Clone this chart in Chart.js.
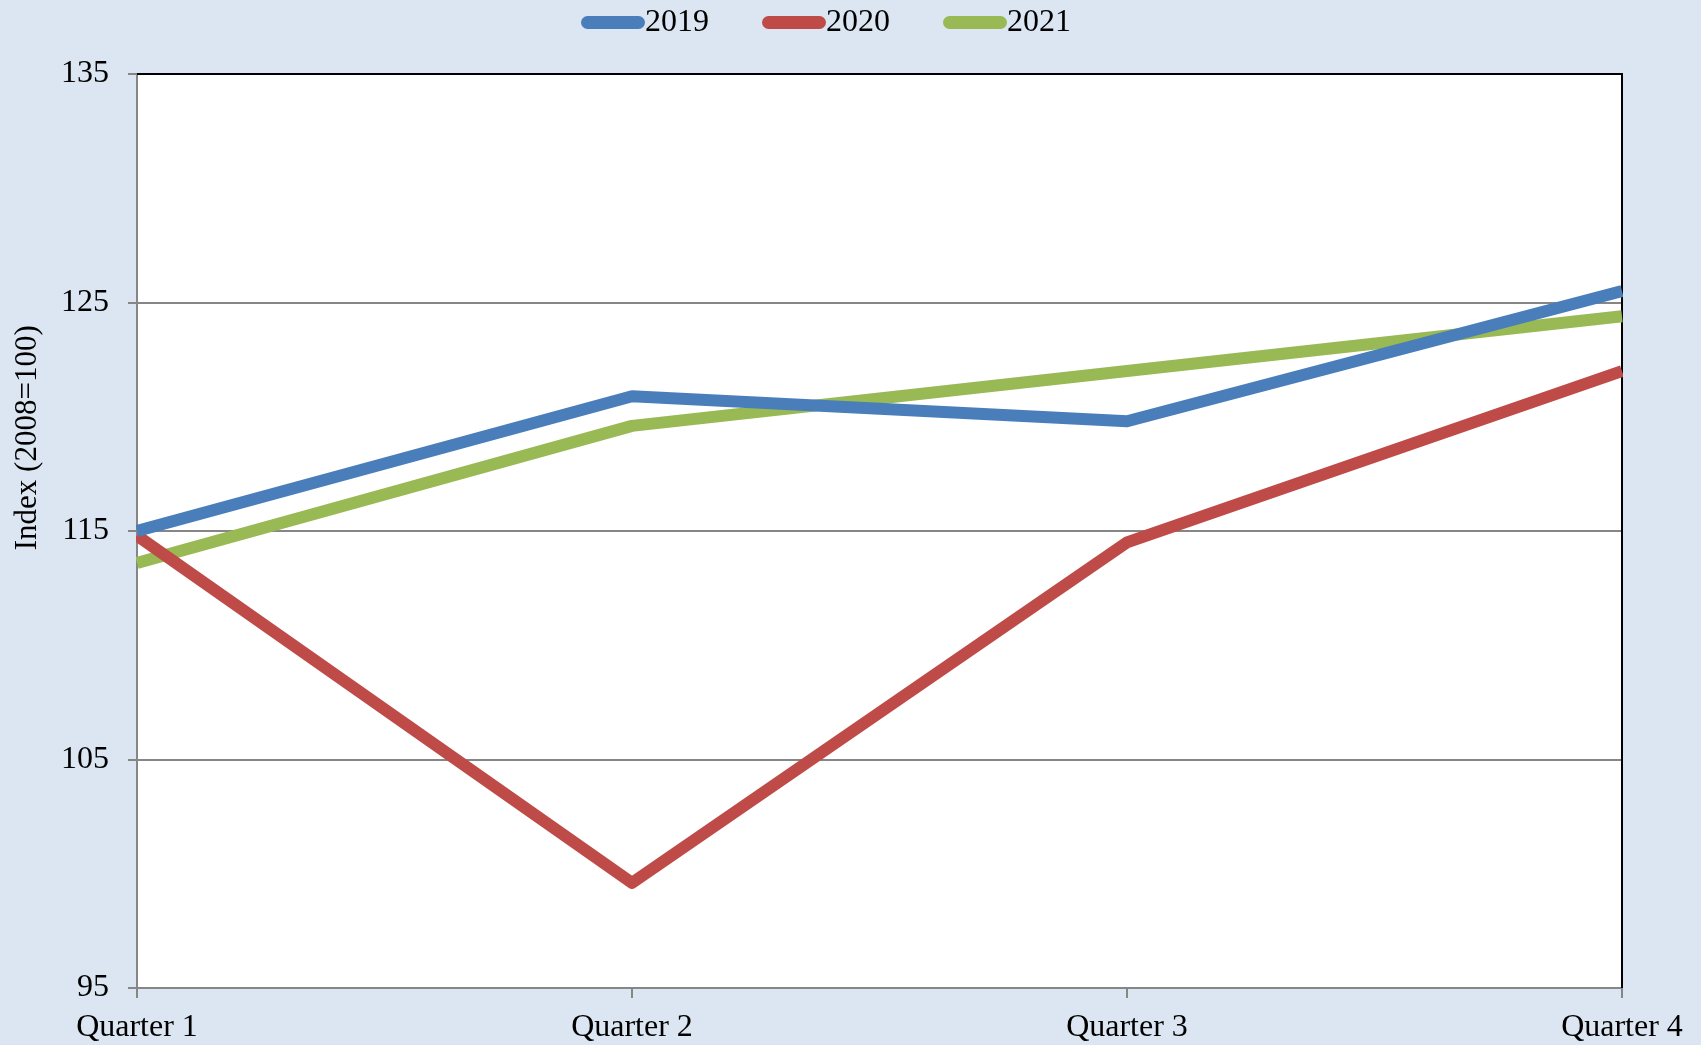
<!DOCTYPE html>
<html lang="en">
<head>
    <meta charset="UTF-8">
    <title>Quarterly index 2019-2021</title>
    <style>
        body {
            margin: 0;
            background: #dce6f2;
        }

        #chart-container {
            position: relative;
            width: 1701px;
            height: 1045px;
        }
    </style>
</head>
<body>
<div id="chart-container">
    <canvas id="index-chart"></canvas>
</div>
<script src="https://cdn.jsdelivr.net/npm/chart.js@4.4.1/dist/chart.umd.min.js"></script>
<script>
    const quarters = ["Quarter 1", "Quarter 2", "Quarter 3", "Quarter 4"];
    const index2019 = [115.0, 120.9, 119.8, 125.5];
    const index2020 = [114.8, 99.6, 114.5, 122.0];
    const index2021 = [113.6, 119.6, 122.0, 124.4];
    const yMin = 95;
    const yMax = 135;
    const yStep = 10;

    const serif = "'Liberation Serif', 'Times New Roman', serif";
    const axisGrey = "#868686";

    Chart.defaults.font.family = serif;
    Chart.defaults.font.size = 32;
    Chart.defaults.color = "#000";

    // white plot area + black top/right edges
    const plotFrame = {
        id: "plotFrame",
        beforeDraw(chart) {
            const {ctx, chartArea: a} = chart;
            ctx.save();
            ctx.fillStyle = "#fff";
            ctx.fillRect(a.left, a.top, a.right - a.left, a.bottom - a.top);
            ctx.restore();
        },
        beforeDatasetsDraw(chart) {
            const {ctx, chartArea: a} = chart;
            ctx.save();
            ctx.strokeStyle = "#000";
            ctx.lineWidth = 2;
            ctx.beginPath();
            ctx.moveTo(a.left, a.top);
            ctx.lineTo(a.right, a.top);
            ctx.lineTo(a.right, a.bottom);
            ctx.stroke();
            ctx.restore();
        }
    };

    // legend row: rounded swatch with the label right after it
    const legendRow = {
        id: "legendRow",
        afterDraw(chart) {
            const {ctx} = chart;
            let x = 581;
            ctx.save();
            ctx.font = "32px " + serif;
            ctx.textBaseline = "middle";
            chart.data.datasets.forEach(ds => {
                ctx.fillStyle = ds.borderColor;
                ctx.beginPath();
                ctx.roundRect(x, 16, 64, 13, 6.5);
                ctx.fill();
                x += 64;
                ctx.fillStyle = "#000";
                ctx.fillText(ds.label, x, 23);
                x += ctx.measureText(ds.label).width + 53;
            });
            ctx.restore();
        }
    };

    // rotated y axis title, sitting a bit above the middle of the axis
    const yTitle = {
        id: "yTitle",
        afterDraw(chart) {
            const {ctx, chartArea: a} = chart;
            ctx.save();
            ctx.translate(28, a.top + (a.bottom - a.top) * 0.398);
            ctx.rotate(-Math.PI / 2);
            ctx.font = "31px " + serif;
            ctx.fillStyle = "#000";
            ctx.textAlign = "center";
            ctx.textBaseline = "middle";
            ctx.fillText("Index (2008=100)", 0, 0);
            ctx.restore();
        }
    };

    const line = (label, data, color) => ({
        label: label,
        data: data,
        borderColor: color,
        backgroundColor: color,
        borderWidth: 12,
        borderJoinStyle: "round",
        pointRadius: 0,
        pointHoverRadius: 0,
        tension: 0,
        clip: 1
    });

    const chart = new Chart("index-chart", {
        type: "line",
        data: {
            labels: quarters,
            datasets: [
                line("2019", index2019, "#4a7ebb"),
                line("2020", index2020, "#be4b48"),
                line("2021", index2021, "#98b954")
            ]
        },
        options: {
            responsive: true,
            maintainAspectRatio: false,
            animation: false,
            layout: {
                padding: {top: 74, right: 79, bottom: 0, left: 0}
            },
            plugins: {
                legend: {display: false},
                tooltip: {enabled: false}
            },
            scales: {
                x: {
                    offset: false,
                    grid: {
                        drawOnChartArea: false,
                        drawTicks: true,
                        tickLength: 10,
                        color: axisGrey,
                        lineWidth: 2
                    },
                    border: {color: axisGrey, width: 2},
                    ticks: {padding: 10, maxRotation: 0},
                    afterFit(scale) {
                        scale.height = 57;
                    }
                },
                y: {
                    min: yMin,
                    max: yMax,
                    grid: {
                        color: axisGrey,
                        lineWidth: 2,
                        tickLength: 9
                    },
                    border: {color: axisGrey, width: 2},
                    ticks: {stepSize: yStep, padding: 19},
                    afterFit(scale) {
                        scale.width = 137;
                    }
                }
            }
        },
        plugins: [plotFrame, legendRow, yTitle]
    });
</script>
</body>
</html>
